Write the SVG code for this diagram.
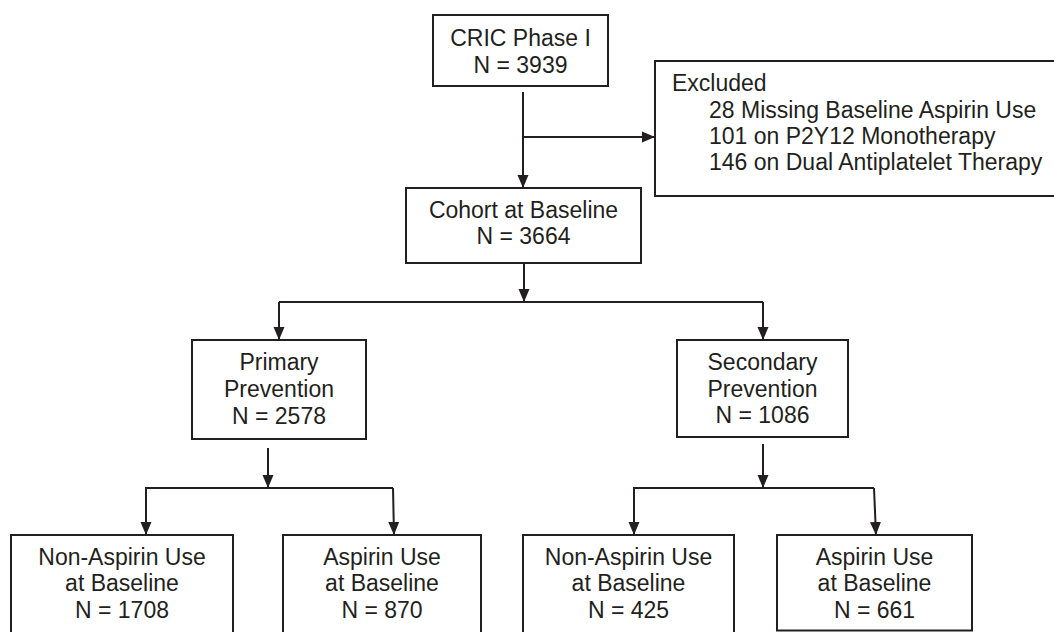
<svg xmlns="http://www.w3.org/2000/svg" width="1054" height="632" viewBox="0 0 1054 632">
<defs>
<style>
.box{fill:#fff;stroke:#231f20;stroke-width:2}
.t{font-family:"Liberation Sans",Arial,sans-serif;font-size:23px;fill:#231f20;text-anchor:middle}
.tl{font-family:"Liberation Sans",Arial,sans-serif;font-size:23px;fill:#231f20}
.c{fill:none;stroke:#231f20;stroke-width:2}
</style>
<marker id="ah" markerUnits="userSpaceOnUse" markerWidth="14" markerHeight="12" refX="13" refY="6" orient="auto" viewBox="0 0 14 12">
<path d="M0,0.5 L13,6 L0,11.5 z" fill="#231f20"/>
</marker>
</defs>
<rect width="1054" height="632" fill="#fff"/>
<g id="connectors">
<path class="c" d="M523,92 V188" marker-end="url(#ah)"/>
<path class="c" d="M523,137 H655" marker-end="url(#ah)"/>
<path class="c" d="M524,263 V302" marker-end="url(#ah)"/>
<path class="c" d="M279,302 H763"/>
<path class="c" d="M279,302 V340" marker-end="url(#ah)"/>
<path class="c" d="M763,302 V340" marker-end="url(#ah)"/>
<path class="c" d="M268,448 V488" marker-end="url(#ah)"/>
<path class="c" d="M145,488 H393"/>
<path class="c" d="M146,488 V535" marker-end="url(#ah)"/>
<path class="c" d="M393,488 L394,535" marker-end="url(#ah)"/>
<path class="c" d="M763,444 V488" marker-end="url(#ah)"/>
<path class="c" d="M633,488 H874"/>
<path class="c" d="M634,488 V535" marker-end="url(#ah)"/>
<path class="c" d="M874,488 L876,535" marker-end="url(#ah)"/>
</g>
<g id="cric">
<rect class="box" x="433" y="15" width="175" height="71"/>
<text class="t" x="520.5" y="46">CRIC Phase I</text>
<text class="t" x="520.5" y="73">N = 3939</text>
</g>
<g id="excluded">
<rect class="box" x="655" y="61" width="410" height="135"/>
<text class="tl" x="672" y="91">Excluded</text>
<text class="tl" x="709" y="118">28 Missing Baseline Aspirin Use</text>
<text class="tl" x="709" y="144">101 on P2Y12 Monotherapy</text>
<text class="tl" x="709" y="170">146 on Dual Antiplatelet Therapy</text>
</g>
<g id="cohort">
<rect class="box" x="406" y="188" width="235" height="75"/>
<text class="t" x="523.5" y="218">Cohort at Baseline</text>
<text class="t" x="523.5" y="244">N = 3664</text>
</g>
<g id="primary">
<rect class="box" x="192" y="340" width="174" height="99"/>
<text class="t" x="279" y="370">Primary</text>
<text class="t" x="279" y="397">Prevention</text>
<text class="t" x="279" y="424">N = 2578</text>
</g>
<g id="secondary">
<rect class="box" x="677" y="340" width="171" height="97"/>
<text class="t" x="762.5" y="370">Secondary</text>
<text class="t" x="762.5" y="397">Prevention</text>
<text class="t" x="762.5" y="423">N = 1086</text>
</g>
<g id="primary-non">
<rect class="box" x="11" y="535" width="222" height="100"/>
<text class="t" x="122" y="565">Non-Aspirin Use</text>
<text class="t" x="122" y="591">at Baseline</text>
<text class="t" x="122" y="618">N = 1708</text>
</g>
<g id="primary-asp">
<rect class="box" x="283" y="535" width="198" height="100"/>
<text class="t" x="382" y="565">Aspirin Use</text>
<text class="t" x="382" y="591">at Baseline</text>
<text class="t" x="382" y="618">N = 870</text>
</g>
<g id="secondary-non">
<rect class="box" x="523" y="535" width="211" height="100"/>
<text class="t" x="628.5" y="565">Non-Aspirin Use</text>
<text class="t" x="628.5" y="591">at Baseline</text>
<text class="t" x="628.5" y="618">N = 425</text>
</g>
<g id="secondary-asp">
<rect class="box" x="777" y="535" width="195" height="95.5"/>
<text class="t" x="874.5" y="565">Aspirin Use</text>
<text class="t" x="874.5" y="591">at Baseline</text>
<text class="t" x="874.5" y="618">N = 661</text>
</g>
</svg>
